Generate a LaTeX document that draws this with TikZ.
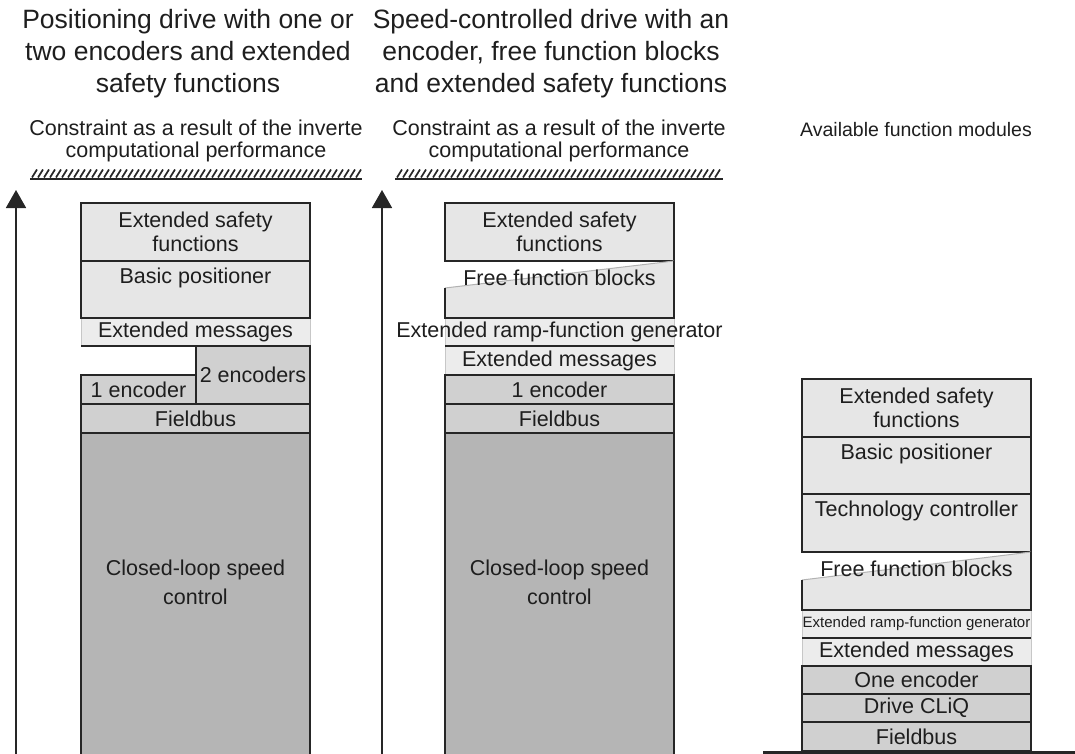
\documentclass[tikz,border=0pt]{standalone}
\usepackage{fontspec}
\setmainfont{Liberation Sans}
\usepackage{tikz}
\usetikzlibrary{arrows.meta,calc,positioning}

\definecolor{paleGray}{HTML}{E6E6E6}
\definecolor{softGray}{HTML}{ECECEC}
\definecolor{midGray}{HTML}{D0D0D0}
\definecolor{deepGray}{HTML}{B5B5B5}
\definecolor{inkGray}{HTML}{1E1E1E}

\newcommand{\lyrfont}{\fontsize{21.5}{24}\selectfont}
\newcommand{\limfont}{\fontsize{21.5}{22.5}\selectfont}
\newcommand{\hdrfont}{\fontsize{26.5}{32}\selectfont}
\newcommand{\narrowfont}{\fontsize{15}{18}\selectfont}

\begin{document}
\begin{tikzpicture}[
  x=1pt, y=-1pt,
  every node/.style={text=inkGray, inner sep=0pt, outer sep=0pt, align=center},
  layer/.style={draw=black!85, line width=1.8pt, anchor=north west,
    minimum width=229pt, font=\lyrfont},
  soft/.style={draw=black!22, line width=1pt, fill=softGray, anchor=north west,
    minimum width=229pt, font=\lyrfont},
  edge/.style={draw=black!85, line width=1.8pt},
  slant/.style={draw=black!30, line width=1pt},
  label/.style={font=\lyrfont},
  heading/.style={font=\hdrfont},
  rise/.style={edge, -{Triangle[length=18pt,width=20pt]}},
  hatch/.style={draw=black!85, line width=1.7pt}
]
\useasboundingbox (0,0) rectangle (1075,754);
\clip (0,0) rectangle (1075,754);

% ---- headings ----
\node[heading] (head1) at (188,54) {Positioning drive with one or\\two encoders and extended\\safety functions};
\node[heading] (head2) at (551,54) {Speed-controlled drive with an\\encoder, free function blocks\\and extended safety functions};

\node[label, font=\limfont] (lim1) at (196,141) {Constraint as a result of the inverte\\computational performance};
\node[label, font=\limfont] (lim2) at (559,141) {Constraint as a result of the inverte\\computational performance};
\node[label, font=\fontsize{19.5}{22}\selectfont] (avail) at (916,130) {Available function modules};

% ---- performance limits ----
\coordinate (lim1l) at (30,179);
\coordinate (lim1r) at (362,179);
\draw[edge, line width=2.5pt] (lim1l) -- (lim1r);
\foreach \x in {32,38,...,356}
  \draw[hatch] (\x,177.5) -- ++(5,-8);

\coordinate (lim2l) at (395,179);
\coordinate (lim2r) at (723,179);
\draw[edge, line width=2.5pt] (lim2l) -- (lim2r);
\foreach \x in {397,403,...,717}
  \draw[hatch] (\x,177.5) -- ++(5,-8);

% ---- rising axes ----
\coordinate (ax1b) at (16,754);
\coordinate (ax1t) at (16,190);
\draw[rise] (ax1b) -- (ax1t);
\coordinate (ax2b) at (382,754);
\coordinate (ax2t) at (382,190);
\draw[rise] (ax2b) -- (ax2t);

% ---- left stack ----
\node[soft, minimum height=28pt] (em1) at (81,318) {Extended messages};
\node[layer, fill=paleGray, minimum height=58pt] (esf1) at (81,203) {Extended safety\\functions};
\node[layer, fill=paleGray, minimum height=57pt] (bp1) at (81,261) {};
\node[label, below=7pt of bp1.north] (bp1t) {Basic positioner};
\draw[edge] (em1.south west) -- (em1.south east);
\node[layer, fill=midGray, minimum width=114pt, minimum height=58pt] (enc2) at (196,346) {2 encoders};
\node[layer, fill=midGray, minimum width=115pt, minimum height=29pt] (enc1) at (81,375) {1 encoder};
\node[layer, fill=midGray, minimum height=29pt] (fb1) at (81,404) {Fieldbus};
\node[layer, fill=deepGray, minimum height=340pt] (cl1) at (81,433) {};
\node[label, font=\fontsize{21.5}{29}\selectfont] (cl1t) at ($(cl1.north)+(0,149)$) {Closed-loop speed\\control};

% ---- middle stack ----
\node[soft, minimum height=28pt] (rg2) at (445,318) {};
\node[soft, minimum height=29pt] (em2) at (445,346) {Extended messages};
\node[label] (rg2t) at (rg2.center) {Extended ramp-function generator};
\node[layer, fill=paleGray, minimum height=58pt] (esf2) at (445,203) {Extended safety\\functions};
\coordinate (ff2a) at (445,288);
\fill[paleGray] (ff2a) -- (esf2.south east) -- (rg2.north east) -- (rg2.north west) -- cycle;
\draw[slant] (ff2a) -- (esf2.south east);
\draw[edge] (ff2a) -- (rg2.north west) -- (rg2.north east) -- (esf2.south east);
\node[label, below=9pt of esf2.south] (ff2t) {Free function blocks};
\draw[edge] (rg2.south west) -- (rg2.south east);
\node[layer, fill=midGray, minimum height=29pt] (enc1b) at (445,375) {1 encoder};
\node[layer, fill=midGray, minimum height=29pt] (fb2) at (445,404) {Fieldbus};
\node[layer, fill=deepGray, minimum height=340pt] (cl2) at (445,433) {};
\node[label, font=\fontsize{21.5}{29}\selectfont] (cl2t) at ($(cl2.north)+(0,149)$) {Closed-loop speed\\control};

% ---- available modules ----
\node[soft, minimum height=28pt] (rg3) at (802,610) {};
\node[label, font=\narrowfont] (rg3t) at (rg3.center) {Extended ramp-function generator};
\node[soft, minimum height=28pt] (em3) at (802,638) {Extended messages};
\node[layer, fill=paleGray, minimum height=58pt] (esf3) at (802,379) {Extended safety\\functions};
\node[layer, fill=paleGray, minimum height=57pt] (bp3) at (802,437) {};
\node[label, below=7pt of bp3.north] (bp3t) {Basic positioner};
\node[layer, fill=paleGray, minimum height=58pt] (tc3) at (802,494) {};
\node[label, below=7pt of tc3.north] (tc3t) {Technology controller};
\coordinate (ff3a) at (802,580);
\fill[paleGray] (ff3a) -- (tc3.south east) -- (rg3.north east) -- (rg3.north west) -- cycle;
\draw[slant] (ff3a) -- (tc3.south east);
\draw[edge] (ff3a) -- (rg3.north west) -- (rg3.north east) -- (tc3.south east);
\node[label, below=9pt of tc3.south] (ff3t) {Free function blocks};
\draw[edge] (rg3.south west) -- (rg3.south east);
\node[layer, fill=midGray, minimum height=28pt] (enc3) at (802,666) {One encoder};
\node[layer, fill=midGray, minimum height=28pt] (dc3) at (802,694) {Drive CLiQ};
\node[layer, fill=midGray, minimum height=29pt] (fb3) at (802,722) {Fieldbus};
\coordinate (basel) at (763,752.5);
\coordinate (baser) at (1075,752.5);
\draw[edge, line width=3.5pt] (basel) -- (baser);

\end{tikzpicture}
\end{document}
